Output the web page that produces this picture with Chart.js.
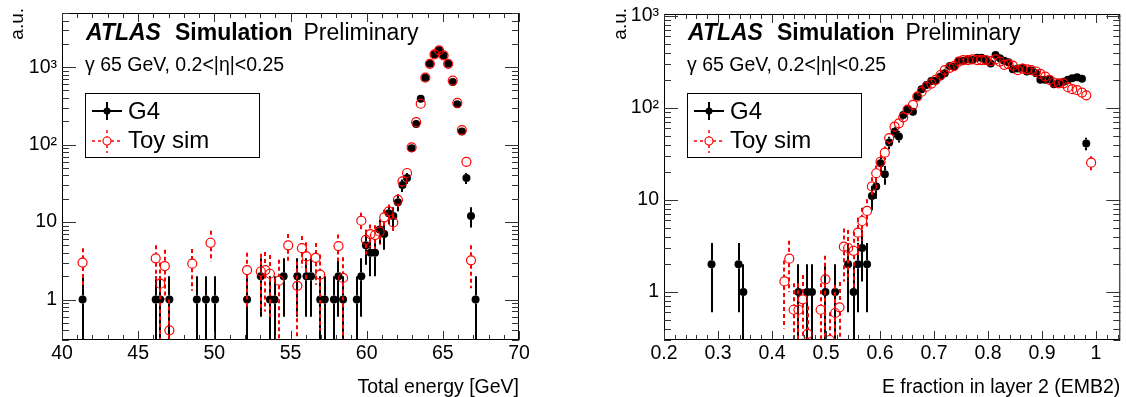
<!DOCTYPE html>
<html>
<head>
<meta charset="utf-8">
<script src="https://cdn.jsdelivr.net/npm/chart.js@4.4.1/dist/chart.umd.min.js"></script>
<style>
  body { margin: 0; background: #fff; }
  #wrap { position: relative; width: 1126px; height: 397px; }
  #wrap canvas { position: absolute; top: 0; }
</style>
</head>
<body>
<div id="wrap">
  <canvas id="chartEnergy" width="563" height="397" style="left:0"></canvas>
  <canvas id="chartFrac" width="563" height="397" style="left:563px"></canvas>
</div>
<script>
// ---- left panel: total energy ----
const energyG4 = [41.35, 46.15, 46.45, 47.05, 48.85, 49.45, 50.05, 52.15, 53.05, 53.65, 53.95, 54.55, 55.45,
  56.05, 56.35, 56.95, 57.25, 57.85, 58.15, 58.45, 59.35, 59.65, 59.95, 60.25, 60.55, 60.85, 61.15, 61.45,
  61.75, 62.05, 62.35, 62.65, 62.95, 63.25, 63.55, 63.85, 64.15, 64.45, 64.75, 65.05, 65.35, 65.65, 65.95,
  66.25, 66.55, 66.85, 67.15];
const countsG4 = [1, 1, 1, 1, 1, 1, 1, 1, 2, 1, 1, 2, 2, 2, 2, 1, 1, 1, 2, 1, 1, 2, 5, 4, 4, 8, 7, 13,
  12, 18, 30, 37, 90, 184, 392, 730, 1104, 1465, 1650, 1415, 1104, 642, 332, 148, 37, 12, 1];
const errG4 = [1, 1, 1, 1, 1, 1, 1, 1, 1.4, 1, 1, 1.4, 1.4, 1.4, 1.4, 1, 1, 1, 1.4, 1, 1, 1.4, 2.2, 2, 2, 2.8, 2.6, 3.6,
  3.5, 4.2, 5.5, 6.1, 9.5, 13.6, 19.8, 27, 33, 38, 41, 38, 33, 25, 18, 12, 6.1, 3.5, 1];

const energyToy = [41.35, 46.15, 46.45, 46.75, 47.05, 48.55, 49.75, 52.15, 53.05, 53.35, 53.65, 54.25, 54.85,
  55.45, 55.75, 56.05, 56.65, 56.95, 58.15, 58.45, 59.65, 59.95, 60.25, 60.55, 60.85, 61.15, 61.45, 61.75,
  62.05, 62.35, 62.65, 62.95, 63.25, 63.55, 63.85, 64.15, 64.45, 64.75, 65.05, 65.35, 65.65, 65.95, 66.25,
  66.55, 66.85];
const countsToy = [3.0, 3.4, 1.6, 2.7, 0.4, 2.9, 5.4, 2.4, 2.3, 2.4, 2.15, 1.75, 5.0, 1.5, 4.6, 3.6, 3.45, 2.1,
  4.9, 1.9, 10.4, 5.9, 7.0, 6.8, 7.5, 11.5, 13.7, 9.9, 19.3, 33.5, 43, 92, 195, 337, 730, 1104, 1465, 1650,
  1415, 1104, 670, 345, 154, 60, 3.2];
const errToy = [1.6, 1.6, 1.4, 1.7, 0.6, 1.6, 2.3, 1.6, 1.6, 1.7, 1.6, 1.5, 2, 1.6, 2, 1.9, 1.9, 1.7, 2, 1.6,
  2.8, 2.1, 2.3, 2.3, 2.4, 2.9, 3.2, 2.7, 3.7, 4.9, 5.5, 8, 12, 15, 21, 26, 30, 31, 30, 26, 20, 14, 10, 6, 1.8];

// ---- right panel: E fraction in layer 2 ----
const fracG4 = [0.288, 0.338, 0.347, 0.449, 0.465, 0.474, 0.499, 0.517, 0.541, 0.551, 0.559, 0.567, 0.576,
  0.585, 0.593, 0.601, 0.609, 0.617, 0.627, 0.635, 0.643, 0.651, 0.661, 0.669, 0.677, 0.686, 0.695, 0.703,
  0.712, 0.720, 0.729, 0.737, 0.746, 0.754, 0.763, 0.771, 0.780, 0.788, 0.796, 0.805, 0.814, 0.822, 0.830,
  0.838, 0.846, 0.855, 0.864, 0.872, 0.880, 0.889, 0.897, 0.906, 0.914, 0.922, 0.931, 0.940, 0.948, 0.956,
  0.965, 0.974, 0.982];
const fracCountsG4 = [2, 2, 1, 1, 1, 1, 1, 1, 2, 1, 2, 3, 2, 11, 14, 25, 19, 42, 55, 49, 84, 97, 91, 133,
  160, 178, 196, 198, 219, 239, 285, 282, 326, 326, 336, 331, 352, 352, 331, 305, 377, 347, 326, 313, 263,
  268, 273, 249, 255, 239, 202, 202, 205, 181, 185, 193, 202, 210, 215, 207, 41];
const fracErrG4 = [1.4, 1.4, 1, 1, 1, 1, 1, 1, 1.4, 1, 1.4, 1.7, 1.4, 3.3, 3.7, 5, 4.4, 6.5, 7.4, 7, 9, 10, 9.5,
  11.5, 12.6, 13.3, 14, 14, 14.8, 15.5, 16.9, 16.8, 18, 18, 18.3, 18.2, 18.8, 18.8, 18.2, 17.5, 19.4, 18.6,
  18, 17.7, 16.2, 16.4, 16.5, 15.8, 16, 15.5, 14.2, 14.2, 14.3, 13.5, 13.6, 13.9, 14.2, 14.5, 14.7, 14.4, 6.4];

const fracToy = [0.423, 0.432, 0.440, 0.449, 0.457, 0.466, 0.490, 0.499, 0.507, 0.517, 0.525, 0.533, 0.541,
  0.551, 0.559, 0.567, 0.576, 0.585, 0.593, 0.601, 0.609, 0.617, 0.627, 0.635, 0.643, 0.651, 0.661, 0.669,
  0.677, 0.686, 0.695, 0.703, 0.712, 0.720, 0.729, 0.737, 0.746, 0.754, 0.763, 0.771, 0.780, 0.788, 0.796,
  0.805, 0.814, 0.822, 0.830, 0.838, 0.846, 0.855, 0.864, 0.872, 0.880, 0.889, 0.897, 0.906, 0.914, 0.922,
  0.931, 0.940, 0.948, 0.956, 0.965, 0.974, 0.982, 0.991];
const fracCountsToy = [1.3, 2.3, 0.64, 0.64, 0.83, 0.35, 0.64, 1.37, 0.30, 0.59, 0.68, 3.1, 3.0, 2.8, 4.4, 5.9,
  7.6, 14, 19.5, 26, 32.6, 47, 62.6, 68, 79, 96, 108, 133, 150, 170, 184, 202, 228, 258, 273, 285, 319, 331,
  331, 337, 331, 331, 331, 323, 337, 319, 294, 300, 289, 258, 268, 263, 258, 249, 234, 219, 202, 189, 185,
  185, 168, 160, 156, 147, 137, 25.4];
const fracErrToy = [0.9, 1.3, 0.6, 0.6, 0.7, 0.35, 0.6, 1.1, 0.3, 0.6, 0.6, 1.8, 1.7, 1.7, 2, 2.3, 2.6, 3.6, 4.2,
  4.8, 5.4, 6.5, 7.5, 7.8, 8.4, 9.2, 9.8, 10.9, 11.6, 12.3, 12.8, 13.4, 14.3, 15.2, 15.6, 16, 16.9, 17.2, 17.2,
  17.4, 17.2, 17.2, 17.2, 17, 17.4, 16.9, 16.2, 16.4, 16.1, 15.2, 15.5, 15.3, 15.2, 14.9, 14.5, 14, 13.4, 13,
  12.9, 12.9, 12.3, 12, 11.8, 11.5, 11, 4.4];

// ---- axis ticks ----
const energyTicks = [40, 45, 50, 55, 60, 65, 70];
const fracTicks = [0.2, 0.3, 0.4, 0.5, 0.6, 0.7, 0.8, 0.9, 1];
const yTicks = [1, 10, 100, 1000];
const yTickLabels = ['1', '10', '10²', '10³'];

const FONT = "'Liberation Sans', Arial, Helvetica, sans-serif";

const toPoints = (xs, ys) => xs.map((x, i) => ({ x: x, y: ys[i] }));

// ROOT-like look: error bars, inner ticks on four sides, frame, labels, legend
const rootStyle = {
  id: 'rootStyle',
  beforeDatasetDraw(chart, args) {
    const ds = chart.data.datasets[args.index];
    if (!ds.err) return;
    const { ctx, chartArea: a, scales: { x, y } } = chart;
    ctx.save();
    ctx.beginPath();
    ctx.rect(a.left, a.top, a.right - a.left, a.bottom - a.top);
    ctx.clip();
    ctx.strokeStyle = ds.errColor;
    ctx.lineWidth = 2;
    ctx.setLineDash(ds.errDash || []);
    const r = ds.pointRadius;
    ds.data.forEach((p, i) => {
      const e = ds.err[i];
      if (!e) return;
      const px = Math.round(x.getPixelForValue(p.x));
      const py = y.getPixelForValue(p.y);
      const top = y.getPixelForValue(p.y + e);
      const bot = p.y - e > 0 ? y.getPixelForValue(p.y - e) : a.bottom + 2;
      ctx.beginPath();
      if (top < py - r) { ctx.moveTo(px, top); ctx.lineTo(px, py - r); }
      if (bot > py + r) { ctx.moveTo(px, py + r); ctx.lineTo(px, bot); }
      ctx.stroke();
    });
    ctx.restore();
  },
  afterDraw(chart, args, o) {
    const { ctx, chartArea: a, scales: { x, y } } = chart;
    ctx.save();
    // frame
    ctx.strokeStyle = '#000';
    ctx.lineWidth = 1;
    ctx.strokeRect(a.left + 0.5, a.top + 0.5, a.right - a.left - 1, a.bottom - a.top - 1);
    // x ticks (bottom and top)
    ctx.strokeStyle = '#333';
    ctx.beginPath();
    for (let k = 0; k <= o.xMinorCount; k++) {
      const v = o.xMinorStart + k * o.xMinorStep;
      if (v > x.max + 1e-9) break;
      const px = Math.round(x.getPixelForValue(v)) + 0.5;
      const len = (k % o.xMajorEvery === 0) ? 9 : 5;
      ctx.moveTo(px, a.bottom); ctx.lineTo(px, a.bottom - len);
      ctx.moveTo(px, a.top); ctx.lineTo(px, a.top + len);
    }
    // log y ticks (left and right)
    for (let d = -1; d <= 3; d++) {
      for (let m = 1; m <= 9; m++) {
        const v = m * Math.pow(10, d);
        if (v < y.min || v > y.max) continue;
        const py = Math.round(y.getPixelForValue(v)) + 0.5;
        const len = m === 1 ? 14 : 7;
        ctx.moveTo(a.left, py); ctx.lineTo(a.left + len, py);
        ctx.moveTo(a.right, py); ctx.lineTo(a.right - len, py);
      }
    }
    ctx.stroke();

    // axis titles
    ctx.fillStyle = '#000';
    ctx.font = '19.5px ' + FONT;
    ctx.textAlign = 'right';
    ctx.textBaseline = 'alphabetic';
    ctx.fillText(o.xTitle, a.right, 393);
    ctx.save();
    ctx.translate(o.auX, 8);
    ctx.rotate(-Math.PI / 2);
    ctx.font = '19px ' + FONT;
    ctx.textAlign = 'right';
    ctx.fillText('a.u.', 0, 0);
    ctx.restore();

    // ATLAS label
    ctx.textAlign = 'left';
    let tx = o.atlasX;
    ctx.font = 'italic bold 23px ' + FONT;
    ctx.fillText('ATLAS', tx, 40);
    tx += ctx.measureText('ATLAS').width + 14;
    ctx.font = 'bold 23px ' + FONT;
    ctx.fillText('Simulation', tx, 40);
    tx += ctx.measureText('Simulation').width + 11;
    ctx.font = '23px ' + FONT;
    ctx.fillText('Preliminary', tx, 40);
    ctx.font = '19.5px ' + FONT;
    ctx.fillText('γ 65 GeV, 0.2<|η|<0.25', o.atlasX - 1, 71);

    // legend
    const lx = o.legendX;
    ctx.strokeStyle = '#000';
    ctx.lineWidth = 1;
    ctx.strokeRect(lx + 0.5, 93.5, 174, 64);
    const mx = lx + 22;
    // G4 entry
    ctx.lineWidth = 2;
    ctx.beginPath();
    ctx.moveTo(lx + 7, 111); ctx.lineTo(lx + 37, 111);
    ctx.moveTo(mx, 102); ctx.lineTo(mx, 120);
    ctx.stroke();
    ctx.fillStyle = '#000';
    ctx.beginPath(); ctx.arc(mx, 111, 3.5, 0, Math.PI * 2); ctx.fill();
    // Toy entry
    ctx.strokeStyle = '#ff0000';
    ctx.setLineDash([3, 3]);
    ctx.lineWidth = 1.5;
    ctx.beginPath();
    ctx.moveTo(lx + 7, 141); ctx.lineTo(mx - 4, 141);
    ctx.moveTo(mx + 4, 141); ctx.lineTo(lx + 37, 141);
    ctx.moveTo(mx, 130); ctx.lineTo(mx, 137);
    ctx.moveTo(mx, 145); ctx.lineTo(mx, 153);
    ctx.stroke();
    ctx.setLineDash([]);
    ctx.lineWidth = 1.2;
    ctx.beginPath(); ctx.arc(mx, 141, 4, 0, Math.PI * 2); ctx.stroke();
    ctx.fillStyle = '#000';
    ctx.font = '24px ' + FONT;
    ctx.fillText('G4', lx + 43, 119);
    ctx.fillText('Toy sim', lx + 43, 148);
    ctx.restore();
  }
};

function makeChart(id, c) {
  return new Chart(document.getElementById(id), {
    type: 'scatter',
    data: {
      datasets: [
        {
          label: 'Toy sim', data: c.toy, err: c.toyErr, errColor: '#ff0000', errDash: [4, 3],
          pointRadius: 4.5, pointHoverRadius: 4.5, pointBorderColor: '#ff0000',
          pointBackgroundColor: 'rgba(0,0,0,0)', pointBorderWidth: 1.2
        },
        {
          label: 'G4', data: c.g4, err: c.g4Err, errColor: '#000',
          pointRadius: 4, pointHoverRadius: 4, pointBorderColor: '#000',
          pointBackgroundColor: '#000', pointBorderWidth: 0
        }
      ]
    },
    options: {
      responsive: false,
      animation: false,
      events: [],
      layout: { padding: { left: 0, right: c.padRight, top: c.padTop, bottom: 0 } },
      plugins: {
        legend: { display: false },
        tooltip: { enabled: false },
        rootStyle: c.style
      },
      scales: {
        x: {
          type: 'linear', min: c.xMin, max: c.xMax,
          grid: { display: false, drawTicks: false }, border: { display: false },
          afterBuildTicks: s => { s.ticks = c.xTicks.map(v => ({ value: v })); },
          afterFit: s => { s.height = 57; s.paddingLeft = 0; s.paddingRight = 0; },
          ticks: {
            font: { family: FONT, size: 19.5 }, color: '#000', padding: 2,
            maxRotation: 0, autoSkip: false, callback: v => String(v)
          }
        },
        y: {
          type: 'logarithmic', min: 0.3, max: c.yMax,
          grid: { display: false, drawTicks: false }, border: { display: false },
          afterBuildTicks: s => { s.ticks = yTicks.map(v => ({ value: v })); },
          afterFit: s => { s.width = c.yWidth; s.paddingTop = 0; s.paddingBottom = 0; },
          ticks: {
            font: { family: FONT, size: 19.5 }, color: '#000', padding: 5,
            autoSkip: false, callback: (v, i) => yTickLabels[i]
          }
        }
      }
    },
    plugins: [rootStyle]
  });
}

makeChart('chartEnergy', {
  g4: toPoints(energyG4, countsG4), g4Err: errG4,
  toy: toPoints(energyToy, countsToy), toyErr: errToy,
  xMin: 40, xMax: 70, xTicks: energyTicks, yMax: 5000,
  padRight: 44, padTop: 13, yWidth: 62,
  style: { xTitle: 'Total energy [GeV]', auX: 23, atlasX: 86, legendX: 85,
           xMinorStart: 40, xMinorStep: 1, xMinorCount: 30, xMajorEvery: 5 }
});

makeChart('chartFrac', {
  g4: toPoints(fracG4, fracCountsG4), g4Err: fracErrG4,
  toy: toPoints(fracToy, fracCountsToy), toyErr: fracErrToy,
  xMin: 0.2, xMax: 1.045, xTicks: fracTicks, yMax: 1050,
  padRight: 4, padTop: 14, yWidth: 101,
  style: { xTitle: 'E fraction in layer 2 (EMB2)', auX: 63, atlasX: 125, legendX: 124,
           xMinorStart: 0.2, xMinorStep: 0.02, xMinorCount: 42, xMajorEvery: 5 }
});
</script>
</body>
</html>
